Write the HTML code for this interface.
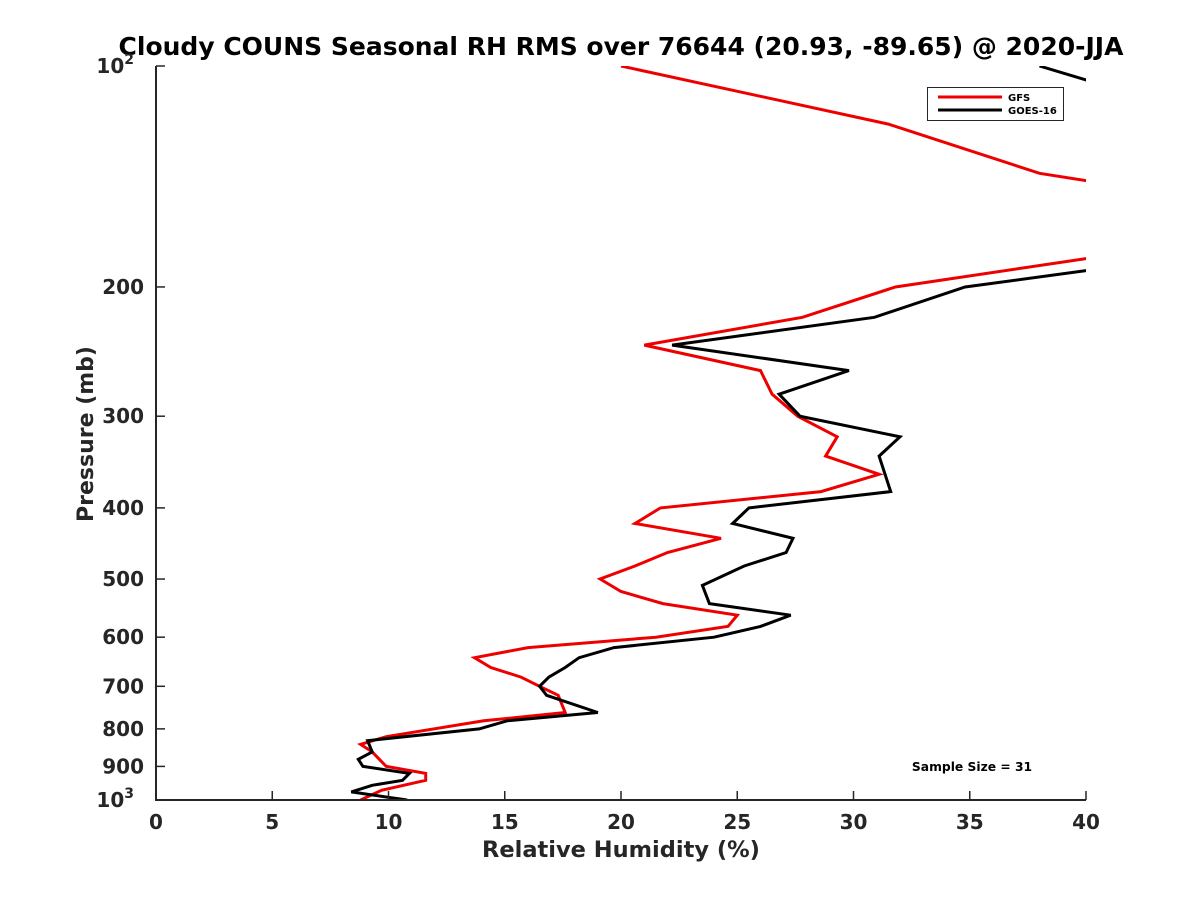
<!DOCTYPE html>
<html><head><meta charset="utf-8"><style>
body{margin:0;background:#fff;}
svg{display:block;font-family:"DejaVu Sans","Liberation Sans",sans-serif;font-weight:bold;}
</style></head><body>
<svg id="chart" width="1200" height="900" xmlns="http://www.w3.org/2000/svg">
<rect width="1200" height="900" fill="#fff"/>
<text x="621" y="55" text-anchor="middle" font-size="25" fill="#000">Cloudy COUNS Seasonal RH RMS over 76644 (20.93, -89.65) @ 2020-JJA</text>
<defs><clipPath id="plotclip"><rect x="156" y="66" width="930" height="734"/></clipPath></defs>
<g id="series" clip-path="url(#plotclip)"></g>
<g id="axes"></g>
<text x="621" y="857" text-anchor="middle" font-size="22.5" fill="#262626">Relative Humidity (%)</text>
<text transform="translate(93,434) rotate(-90)" text-anchor="middle" font-size="22" fill="#262626">Pressure (mb)</text>
<g>
<rect x="927.5" y="87.5" width="136" height="33" fill="#fff" stroke="#262626" stroke-width="1"/>
<line x1="938" y1="97" x2="1002" y2="97" stroke="#e00" stroke-width="3"/>
<text x="1008" y="101" font-size="10" fill="#000">GFS</text>
<line x1="938" y1="110" x2="1002" y2="110" stroke="#000" stroke-width="3"/>
<text x="1008" y="114" font-size="10" fill="#000">GOES-16</text>
</g>
<text x="972" y="771" text-anchor="middle" font-size="12.3" fill="#000">Sample Size = 31</text>
</svg>
<script>
const gfsPressure = [100,120,140,150,183,200,220,240,260,280,300,320,340,360,380,400,420,440,460,480,500,520,540,560,580,600,620,640,660,680,700,720,760,780,820,840,860,900,920,940,970,1000];
const gfsRH = [20.0,31.5,38.0,44,40,31.8,27.8,21.0,26.0,26.5,27.6,29.3,28.8,31.1,28.6,21.7,20.6,24.3,22.0,20.6,19.1,20.0,21.8,25.0,24.6,21.5,16.0,13.7,14.4,15.7,16.5,17.3,17.6,14.1,9.9,8.8,9.3,9.9,11.6,11.6,9.7,8.8];
const goesPressure = [100,104.5,120,160,190,200,220,240,260,280,300,320,340,380,400,420,440,460,480,510,540,560,580,600,620,640,660,680,700,720,760,780,800,830,860,880,900,920,940,955,975,1000];
const goesRH = [38.0,40.0,44,46,40,34.8,30.9,22.2,29.8,26.8,27.7,32.0,31.1,31.6,25.5,24.8,27.4,27.1,25.3,23.5,23.8,27.3,26.0,24.0,19.7,18.2,17.6,16.9,16.5,16.8,19.0,15.1,13.9,9.1,9.3,8.7,8.9,10.9,10.6,9.3,8.4,10.8];
const xTicks = [0,5,10,15,20,25,30,35,40];
const yTicks = [100,200,300,400,500,600,700,800,900,1000];
const yTickLabels = ["10²","200","300","400","500","600","700","800","900","10³"];

const NS="http://www.w3.org/2000/svg";
const X0=156,X1=1086,Y0=66,Y1=800;
function xs(v){return X0+(v-0)/(40-0)*(X1-X0);}
function ys(p){return Y0+(Math.log10(p)-2)*(Y1-Y0);}
function mk(tag,attrs,parent){const e=document.createElementNS(NS,tag);for(const k in attrs)e.setAttribute(k,attrs[k]);parent.appendChild(e);return e;}

const series=document.getElementById('series');
function drawLine(ps,vs,color,name){
  const pts=ps.map((p,i)=>xs(vs[i]).toFixed(1)+","+ys(p).toFixed(1)).join(" ");
  const pl=mk('polyline',{points:pts,fill:"none",stroke:color,"stroke-width":3,"stroke-linejoin":"miter"},series);
  
  
}
drawLine(gfsPressure,gfsRH,"#e00","gfs-line");
drawLine(goesPressure,goesRH,"#000","goes16-line");

const axes=document.getElementById('axes');
const ax=mk('path',{d:`M${X0},${Y0}V${Y1}H${X1}`,fill:"none",stroke:"#262626","stroke-width":2},axes);


xTicks.forEach(v=>{
  const x=xs(v);
  const t=mk('line',{x1:x,y1:Y1,x2:x,y2:Y1-9,stroke:"#262626","stroke-width":1.5},axes);
  
  
  const l=mk('text',{x:x,y:Y1+29,"text-anchor":"middle","font-size":20,fill:"#262626"},axes);
  l.textContent=v;
  
  
});
yTicks.forEach((p,i)=>{
  const y=ys(p);
  const t=mk('line',{x1:X0,y1:y,x2:X0+9,y2:y,stroke:"#262626","stroke-width":1.5},axes);
  
  
  const l=mk('text',{x:X0-12,y:y+7,"text-anchor":"end","font-size":20,fill:"#262626"},axes);
  const lab=yTickLabels[i];
  if(lab.length===3&&/[²³]/.test(lab)){
    l.textContent="10";
    const s=mk('tspan',{dy:-9,"font-size":14},l);
    s.textContent=lab.endsWith("²")?"2":"3";
    l.setAttribute('x',X0-22);
  } else l.textContent=lab;
  
  
});
</script>
</body></html>
